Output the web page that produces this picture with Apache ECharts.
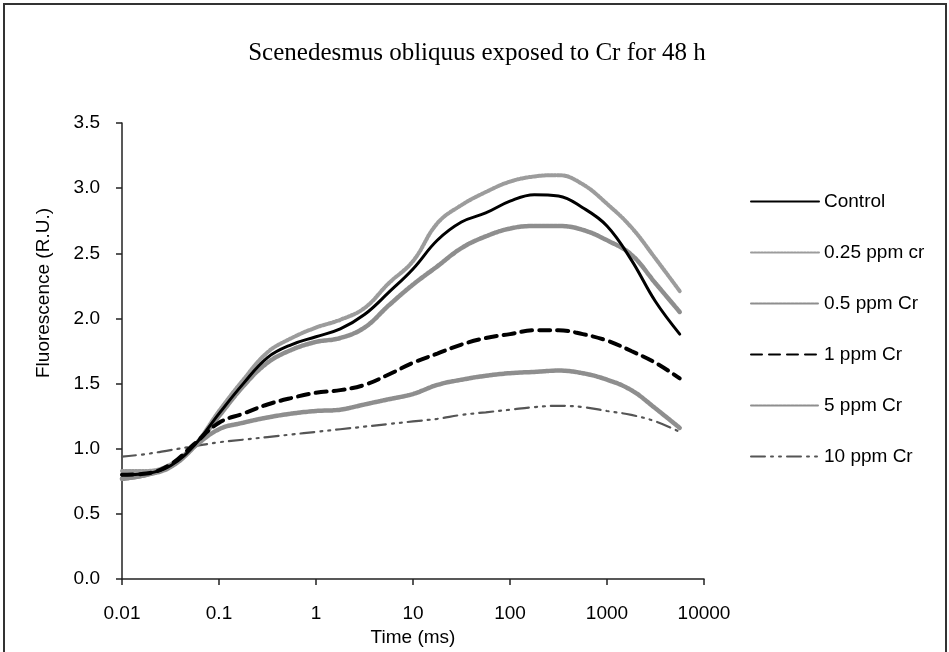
<!DOCTYPE html>
<html>
<head>
<meta charset="utf-8">
<script src="https://cdn.jsdelivr.net/npm/echarts@6/dist/echarts.min.js"></script>
<style>
html,body{margin:0;padding:0;background:#fff;}
#chart{width:949px;height:652px;}
</style>
</head>
<body>
<div id="chart"></div>
<script>
// Time points (ms)
var times = [0.01, 0.0178, 0.0316, 0.0562, 0.1, 0.178, 0.316, 0.562, 1, 1.78, 3.16, 5.62, 10, 17.8, 31.6, 56.2, 100, 178, 316, 562, 1000, 1780, 3160, 5620];
var seriesNames = ['Control', '0.25 ppm cr', '0.5 ppm Cr', '1 ppm Cr', '5 ppm Cr', '10 ppm Cr'];
var control = [0.80, 0.81, 0.87, 1.03, 1.27, 1.50, 1.70, 1.80, 1.86, 1.92, 2.03, 2.20, 2.38, 2.60, 2.74, 2.81, 2.90, 2.95, 2.94, 2.85, 2.71, 2.45, 2.13, 1.88];
var ppm025 = [0.83, 0.83, 0.88, 1.03, 1.29, 1.53, 1.74, 1.85, 1.93, 1.99, 2.08, 2.27, 2.44, 2.73, 2.87, 2.97, 3.05, 3.09, 3.10, 3.03, 2.88, 2.70, 2.46, 2.21];
var ppm05 = [0.77, 0.80, 0.86, 1.02, 1.25, 1.48, 1.66, 1.76, 1.82, 1.85, 1.93, 2.10, 2.26, 2.40, 2.54, 2.63, 2.69, 2.71, 2.71, 2.68, 2.60, 2.49, 2.27, 2.05];
var ppm1 = [0.80, 0.81, 0.88, 1.04, 1.20, 1.27, 1.34, 1.39, 1.43, 1.45, 1.49, 1.57, 1.66, 1.73, 1.80, 1.85, 1.88, 1.91, 1.91, 1.88, 1.83, 1.75, 1.66, 1.54];
var ppm5 = [0.77, 0.80, 0.87, 1.02, 1.15, 1.20, 1.24, 1.27, 1.29, 1.30, 1.34, 1.38, 1.42, 1.49, 1.53, 1.56, 1.58, 1.59, 1.60, 1.58, 1.53, 1.45, 1.31, 1.16];
var ppm10 = [0.94, 0.96, 0.99, 1.02, 1.05, 1.07, 1.09, 1.11, 1.13, 1.15, 1.17, 1.19, 1.21, 1.23, 1.26, 1.28, 1.30, 1.32, 1.33, 1.32, 1.29, 1.26, 1.21, 1.13];
var xTickLabels = ['0.01', '0.1', '1', '10', '100', '1000', '10000'];
var yTickLabels = ['0.0', '0.5', '1.0', '1.5', '2.0', '2.5', '3.0', '3.5'];

function pairs(vals) { return times.map(function (t, i) { return [t, vals[i]]; }); }

var styles = [
  {color: '#000000', width: 3, type: 'solid'},
  {color: '#9c9c9c', width: 4, type: [2, 1.3]},
  {color: '#8e8e8e', width: 4.5, type: [3, 1]},
  {color: '#000000', width: 4, type: [11, 7]},
  {color: '#8e8e8e', width: 4.5, type: [3, 1]},
  {color: '#555555', width: 2.2, type: [14, 6, 2, 6, 2, 6]}
];
var allData = [control, ppm025, ppm05, ppm1, ppm5, ppm10];
var zOrder = [6, 5, 4, 7, 3, 2];

var series = seriesNames.map(function (name, i) {
  return {
    name: name,
    type: 'line',
    smooth: 0.4,
    symbol: 'none',
    showSymbol: false,
    data: pairs(allData[i]),
    lineStyle: {color: styles[i].color, width: styles[i].width, type: styles[i].type, cap: 'round'},
    itemStyle: {color: styles[i].color},
    z: zOrder[i]
  };
});

var font = 'Liberation Sans';
var chart = echarts.init(document.getElementById('chart'));
chart.setOption({
  animation: false,
  backgroundColor: '#ffffff',
  title: {
    text: 'Scenedesmus obliquus exposed to Cr for 48 h',
    left: 472, top: 36, textAlign: 'center',
    textStyle: {fontFamily: 'Liberation Serif', fontWeight: 'normal', fontSize: 25, color: '#000'}
  },
  grid: {left: 122, top: 123, width: 582, height: 459},
  legend: {
    orient: 'vertical', left: 745, top: 187,
    itemWidth: 68, itemHeight: 14, itemGap: 32,
    data: seriesNames,
    itemStyle: {opacity: 0},
    textStyle: {fontFamily: font, fontSize: 19, color: '#000'}
  },
  xAxis: {
    type: 'log', logBase: 10, min: 0.01, max: 10000,
    name: 'Time (ms)', nameLocation: 'middle', nameGap: 45,
    nameTextStyle: {fontFamily: font, fontSize: 19, color: '#000'},
    axisLine: {lineStyle: {color: '#222', width: 1.5}},
    axisTick: {show: true, length: 6, lineStyle: {color: '#222', width: 1.5}},
    minorTick: {show: false},
    splitLine: {show: false},
    axisLabel: {
      margin: 25, fontFamily: font, fontSize: 19, color: '#000',
      formatter: function (v, idx) { return xTickLabels[idx] !== undefined ? xTickLabels[idx] : ''; }
    }
  },
  yAxis: {
    type: 'value', min: 0, max: 3.5, interval: 0.5,
    axisLine: {show: true, lineStyle: {color: '#222', width: 1.5}},
    axisTick: {show: true, length: 6, lineStyle: {color: '#222', width: 1.5}},
    splitLine: {show: false},
    axisLabel: {
      margin: 22, fontFamily: font, fontSize: 19, color: '#000',
      formatter: function (v, idx) { return yTickLabels[idx]; }
    }
  },
  graphic: [
    {type: 'rect', shape: {x: 4, y: 4, width: 942, height: 700}, style: {fill: 'none', stroke: '#333', lineWidth: 2}, silent: true},
    {type: 'text', x: 44, y: 293, rotation: Math.PI / 2,
     style: {text: 'Fluorescence (R.U.)', fontFamily: font, fontSize: 19, fill: '#000', align: 'center', verticalAlign: 'middle'}}
  ],
  series: series
});
</script>
</body>
</html>
